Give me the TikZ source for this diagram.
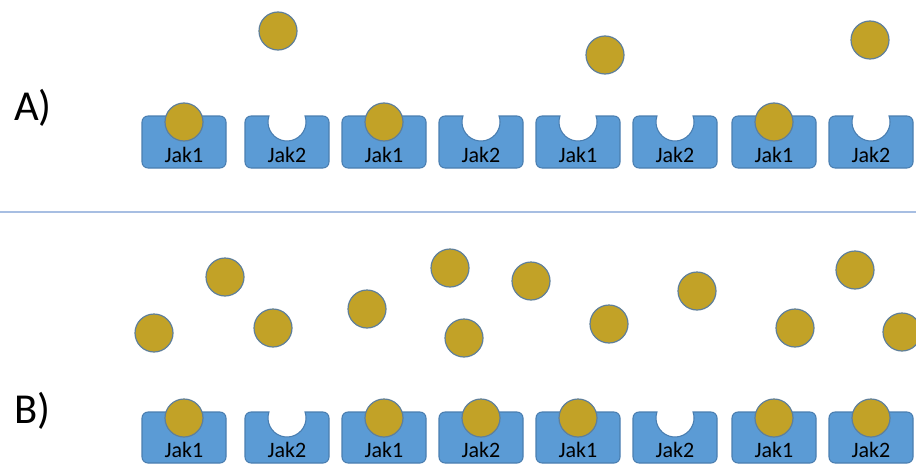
\documentclass[tikz,border=0pt]{standalone}
\usepackage{fontspec}
\setmainfont{Carlito}
\definecolor{jakfill}{HTML}{5B9BD5}
\definecolor{jakedge}{HTML}{4A7EB0}
\definecolor{ligandfill}{HTML}{C2A227}
\definecolor{ligandedge}{HTML}{5F7F9A}
\definecolor{divider}{HTML}{A7BEE2}
\begin{document}
\begin{tikzpicture}[x=0.75pt,y=-0.75pt,
  receptor/.style={fill=jakfill,draw=jakedge,line width=0.8pt},
  ligand/.style={circle,fill=ligandfill,draw=ligandedge,line width=0.9pt,
                 minimum size=28.5pt,inner sep=0pt},
  jaklabel/.style={anchor=base,inner sep=0pt,font=\fontsize{16.5}{19}\selectfont,text=black},
  panel/.style={anchor=base west,inner sep=0pt,font=\fontsize{32}{38}\selectfont}]
\useasboundingbox (0,0) rectangle (916,467);

% panel labels
\node[panel] (labA) at (14,120) {A)};
\node[panel] (labB) at (14,423) {B)};

% divider between the two panels
\coordinate (divL) at (0,212);
\coordinate (divR) at (916,212);
\draw[divider,line width=1.5pt] (divL) -- (divR);

% receptor rows: top edge, bottom edge, prefix, occupancy list
% (corners of radius 6 drawn as arcs; the notch lips stay sharp)
\foreach \t/\b/\row/\occlist in {116/168/A/{1,0,1,0,0,0,1,0},412/463/B/{1,0,1,1,1,0,1,1}}{
  \foreach \cx/\lab [count=\i] in {184/Jak1,287/Jak2,384/Jak1,481/Jak2,578/Jak1,675/Jak2,774/Jak1,871/Jak2}{
    \pgfmathtruncatemacro{\occ}{{\occlist}[\i-1]}
    \ifnum\occ=1
      \draw[receptor] (\cx,\t) -- (\cx+36,\t)
        arc[start angle=-90,end angle=0,radius=6] -- (\cx+42,\b-6)
        arc[start angle=0,end angle=90,radius=6] -- (\cx-36,\b)
        arc[start angle=90,end angle=180,radius=6] -- (\cx-42,\t+6)
        arc[start angle=180,end angle=270,radius=6] -- cycle;
      \node[ligand] (\row-bound-\i) at (\cx,\t+6) {};
    \else
      \draw[receptor] (\cx+18.03,\t) -- (\cx+36,\t)
        arc[start angle=-90,end angle=0,radius=6] -- (\cx+42,\b-6)
        arc[start angle=0,end angle=90,radius=6] -- (\cx-36,\b)
        arc[start angle=90,end angle=180,radius=6] -- (\cx-42,\t+6)
        arc[start angle=180,end angle=270,radius=6] -- (\cx-18.03,\t)
        arc[start angle=198.4,end angle=-18.4,radius=19] -- cycle;
    \fi
    \node[jaklabel] (\row-rec-\i) at (\cx,\b-6) {\lab};
  }
}

% free ligands, panel A
\foreach \x/\y [count=\k] in {278/31,605/55,870/40}{
  \node[ligand] (A-free-\k) at (\x,\y) {};
}
% free ligands, panel B
\foreach \x/\y [count=\k] in {154/333,225/277,273/328,367/309,450/268,464/338,
                              531/281,609/324,697/291,795/328,855/270,902/332}{
  \node[ligand] (B-free-\k) at (\x,\y) {};
}
\end{tikzpicture}
\end{document}
